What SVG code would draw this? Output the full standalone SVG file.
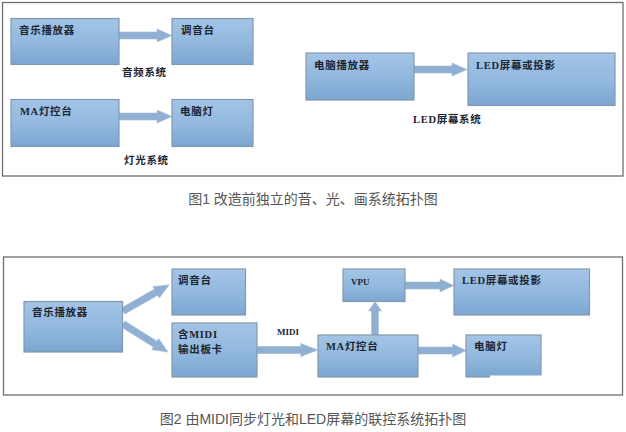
<svg xmlns="http://www.w3.org/2000/svg" width="626" height="432" viewBox="0 0 626 432">
<defs>
<linearGradient id="g" x1="0" y1="0" x2="0" y2="1"><stop offset="0" stop-color="#a3c4e6"/><stop offset="0.5" stop-color="#93b9df"/><stop offset="1" stop-color="#7ba6d0"/></linearGradient>
<polygon id="ar" points="0,-3.500 38,-3.500 38,-6.500 53,0 38,6.500 38,3.500 0,3.500"/>
</defs>
<style>
.f{fill:#fff;stroke:#6e6e6e;stroke-width:1.3}
.n{fill:url(#g);stroke:#8299ad;stroke-width:1.2}
.a{fill:#8fb0d3;stroke:#a3bcd6;stroke-width:.6}
.t{font-family:"Liberation Serif","Noto Sans CJK SC",serif;font-size:10.500px;letter-spacing:.7px;font-weight:700;fill:#1c2530}
.s{font-size:9px;letter-spacing:0}
.c{font-family:"Liberation Sans","Noto Sans CJK SC",sans-serif;font-size:14px;fill:#555;text-anchor:middle}
</style>
<rect width="626" height="432" fill="#fff"/>
<rect class="f" x="2.500" y="2.500" width="620.500" height="173.500"/>
<rect class="f" x="3.500" y="257" width="619" height="138"/>
<g id="connectors">
<use href="#ar" class="a" transform="translate(119 35.500)"/>
<use href="#ar" class="a" transform="translate(119 116.500)"/>
<use href="#ar" class="a" transform="translate(414 69.500)"/>
<use href="#ar" class="a" transform="translate(123 311) rotate(-29.500)"/>
<use href="#ar" class="a" transform="translate(123 324) rotate(32)"/>
<use href="#ar" class="a" transform="translate(257 350) scale(1.150 1)"/>
<use href="#ar" class="a" transform="translate(375 335) rotate(-90) scale(.630 1)"/>
<use href="#ar" class="a" transform="translate(405 285.500) scale(.920 1)"/>
<use href="#ar" class="a" transform="translate(418 350.500) scale(.910 1)"/>
</g>
<g id="n1"><rect class="n" x="11" y="18.500" width="108" height="46"/><text class="t" x="19" y="34">音乐播放器</text></g>
<g id="n2"><rect class="n" x="172" y="18.500" width="81" height="46"/><text class="t" x="181" y="34">调音台</text></g>
<g id="n3"><rect class="n" x="11" y="99.500" width="108" height="47"/><text class="t" x="20" y="115">MA灯控台</text></g>
<g id="n4"><rect class="n" x="172" y="99.500" width="81" height="47"/><text class="t" x="180" y="115">电脑灯</text></g>
<g id="n5"><rect class="n" x="306" y="53" width="108" height="47"/><text class="t" x="314" y="69">电脑播放器</text></g>
<g id="n6"><rect class="n" x="468" y="53" width="147" height="52.500"/><text class="t" x="476" y="69">LED屏幕或投影</text></g>
<text class="t" x="122" y="76">音频系统</text>
<text class="t" x="124" y="164">灯光系统</text>
<text class="t" x="413" y="123">LED屏幕系统</text>
<text class="c" x="313" y="204">图1 改造前独立的音、光、画系统拓扑图</text>
<g id="n7"><rect class="n" x="24" y="301.500" width="98.500" height="50.500"/><text class="t" x="32" y="316">音乐播放器</text></g>
<g id="n8"><rect class="n" x="172" y="269" width="73.500" height="46"/><text class="t" x="178" y="284">调音台</text></g>
<g id="n9"><rect class="n" x="172" y="323" width="85" height="54"/><text class="t" x="178" y="338">含MIDI</text><text class="t" x="178" y="353">输出板卡</text></g>
<g id="n10"><rect class="n" x="343" y="269" width="62" height="32.500"/><text class="t s" x="351" y="285">VPU</text></g>
<g id="n11"><rect class="n" x="454" y="269" width="135.500" height="46"/><text class="t" x="462" y="284">LED屏幕或投影</text></g>
<g id="n12"><rect class="n" x="318" y="335" width="100" height="42"/><text class="t" x="326" y="350">MA灯控台</text></g>
<g id="n13"><rect class="n" x="466" y="335" width="75" height="42"/><text class="t" x="474" y="350">电脑灯</text><rect x="490" y="375.500" width="52" height="2.500" fill="#fff"/></g>
<text class="t s" x="277" y="335">MIDI</text>
<text class="c" x="313" y="424">图2 由MIDI同步灯光和LED屏幕的联控系统拓扑图</text>
</svg>
